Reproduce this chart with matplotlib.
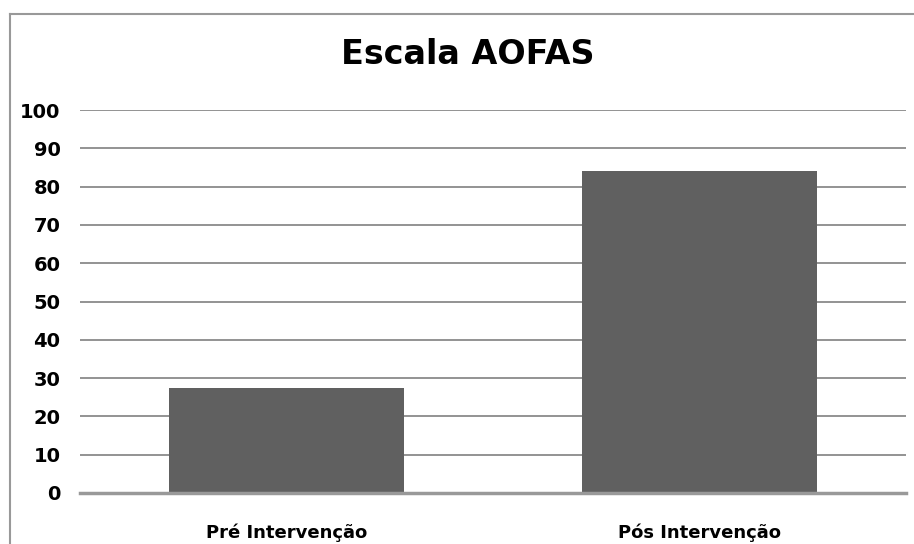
import matplotlib.pyplot as plt
from matplotlib.lines import Line2D

categories = ["Pré Intervenção", "Pós Intervenção"]
values = [27.5, 84]
yticks = [0, 10, 20, 30, 40, 50, 60, 70, 80, 90, 100]
title = "Escala AOFAS"

plt.rcParams["font.family"] = ["DejaVu Sans"]

fig = plt.figure(figsize=(9.14, 5.44), dpi=100)

# outer chart border: only top and left edges are inside the picture
bx, by = 10 / 914, 1 - 14 / 544
fig.add_artist(Line2D([bx, 1.0], [by, by], transform=fig.transFigure,
                      color="#999999", linewidth=1.5))
fig.add_artist(Line2D([bx, bx], [0.0, by], transform=fig.transFigure,
                      color="#999999", linewidth=1.5))

ax = fig.add_axes([80 / 914, 1 - 493 / 544, 826 / 914, 383 / 544])
x = list(range(len(categories)))
ax.bar(x, values, width=0.57, color="#606060", zorder=3)

ax.set_xlim(-0.5, 1.5)
ax.set_ylim(0, 100)
ax.set_yticks(yticks)
ax.set_yticklabels([str(v) for v in yticks], fontsize=14, fontweight="bold")
ax.set_xticks(x)
ax.set_xticklabels(categories, fontsize=13, fontweight="bold")
ax.tick_params(axis="both", length=0)
ax.tick_params(axis="y", pad=14)
ax.tick_params(axis="x", pad=22)

ax.grid(axis="y", color="#8a8a8a", linewidth=1.3, zorder=0)
for s in ["top", "right", "left"]:
    ax.spines[s].set_visible(False)
ax.spines["bottom"].set_color("#999999")
ax.spines["bottom"].set_linewidth(2.5)
ax.spines["bottom"].set_zorder(4)

fig.text(468 / 914, 1 - 54 / 544, title, ha="center", va="center",
         fontsize=24, fontweight="bold")

fig.savefig("out.png", dpi=100)
